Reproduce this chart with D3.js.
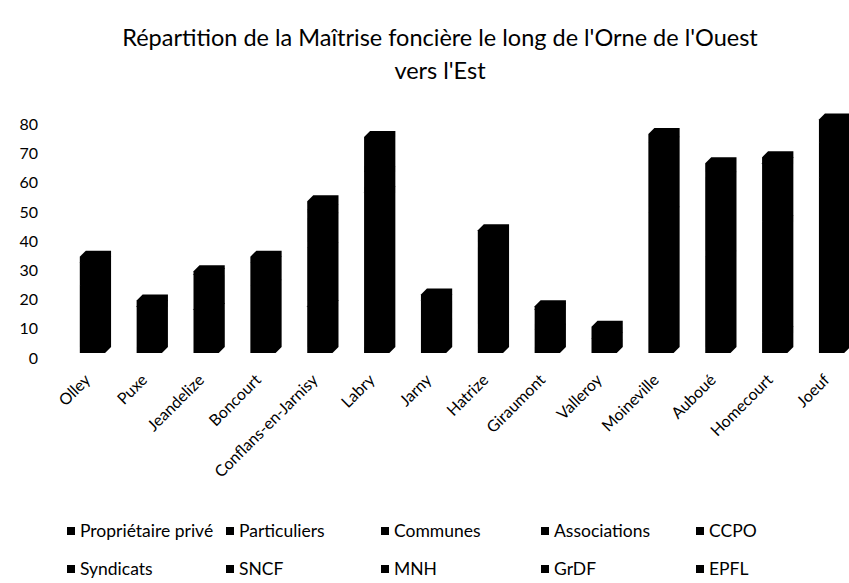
<!DOCTYPE html>
<html>
<head>
<meta charset="utf-8">
<script src="https://cdn.jsdelivr.net/npm/d3@7"></script>
<style>
  body { margin: 0; background: #fff; }
  svg text { font-family: Lato, "Open Sans", sans-serif; fill: #000; }
</style>
</head>
<body>
<svg id="vis" width="849" height="583"></svg>
<script>
// communes along the Orne, west to east
const categories = ['Olley', 'Puxe', 'Jeandelize', 'Boncourt', 'Conflans-en-Jarnisy', 'Labry', 'Jarny',
  'Hatrize', 'Giraumont', 'Valleroy', 'Moineville', 'Auboué', 'Homecourt', 'Joeuf'];

// one array per owner type (same order as categories)
const proprietairePrive = [23, 16, 15, 23, 16, 55, 12, 8, 8, 5, 48, 33, 7, 60];
const particuliers      = [0, 0, 0, 0, 20, 0, 0, 28, 0, 0, 0, 0, 38, 0];
const communes          = [8, 2, 12, 8, 10, 7, 6, 6, 7, 4, 24, 27, 20, 12];
const associations      = [2, 0, 0, 2, 0, 0, 0, 0, 0, 0, 0, 0, 0, 0];
const ccpo              = [0, 0, 0, 0, 3, 0, 2, 0, 0, 0, 0, 0, 0, 0];
const syndicats         = [0, 0, 1, 0, 0, 0, 0, 0, 0, 0, 0, 0, 0, 0];
const sncf              = [0, 0, 0, 0, 3, 12, 0, 0, 1, 0, 0, 0, 0, 0];
const mnh               = [0, 0, 0, 0, 0, 0, 0, 0, 0, 0, 3, 0, 0, 0];
const grdf              = [0, 0, 0, 0, 0, 0, 0, 0, 0, 0, 0, 0, 2, 0];
const epfl              = [0, 0, 0, 0, 0, 0, 0, 0, 0, 0, 0, 5, 0, 8];

const seriesNames = ['Propriétaire privé', 'Particuliers', 'Communes', 'Associations', 'CCPO',
  'Syndicats', 'SNCF', 'MNH', 'GrDF', 'EPFL'];
const seriesValues = [proprietairePrive, particuliers, communes, associations, ccpo,
  syndicats, sncf, mnh, grdf, epfl];
const yTicks = [0, 10, 20, 30, 40, 50, 60, 70, 80];

// table for d3.stack
const table = categories.map((c, i) => {
  const row = { commune: c };
  seriesNames.forEach((s, k) => row[s] = seriesValues[k][i]);
  return row;
});
const stacked = d3.stack().keys(seriesNames)(table);

const vis = d3.select('#vis');
const depth = 6;

const x = d3.scaleBand()
  .domain(categories)
  .range([67, 863])
  .paddingInner(0.45)
  .paddingOuter(0.225);

const y = d3.scaleLinear()
  .domain([0, 80])
  .range([353, 119.4]);

// title
vis.append('text')
  .attr('x', 440).attr('y', 46)
  .attr('text-anchor', 'middle')
  .style('font-size', '23.5px')
  .text("Répartition de la Maîtrise foncière le long de l'Orne de l'Ouest");
vis.append('text')
  .attr('x', 440).attr('y', 79)
  .attr('text-anchor', 'middle')
  .style('font-size', '23.5px')
  .text("vers l'Est");

// y labels (no axis line in the original)
vis.append('g').selectAll('text')
  .data(yTicks)
  .enter()
    .append('text')
    .attr('x', 38)
    .attr('y', d => y(d) + 5)
    .attr('dy', '0.35em')
    .attr('text-anchor', 'end')
    .style('font-size', '16px')
    .text(d => d);

// 3d-ish stacked columns, every series printed black
const bar = (i, v0, v1) => {
  const x0 = x(categories[i]), x1 = x0 + x.bandwidth();
  const yb = y(v0), yt = y(v1);
  return [[x0, yb], [x0, yt], [x0 + depth, yt - depth], [x1, yt - depth],
    [x1, yb - depth], [x1 - depth, yb]].join(' ');
};

vis.append('g').selectAll('g')
  .data(stacked)
  .enter()
    .append('g')
    .attr('fill', '#000')
    .selectAll('polygon')
    .data(d => d.map((p, i) => ({ i, v0: p[0], v1: p[1] })).filter(p => p.v1 > p.v0))
    .enter()
      .append('polygon')
      .attr('points', d => bar(d.i, d.v0, d.v1));

// x labels, rotated
vis.append('g').selectAll('text')
  .data(categories)
  .enter()
    .append('text')
    .attr('transform', d => `translate(${x(d) + x.bandwidth() / 2 - 4},${381}) rotate(-45)`)
    .attr('text-anchor', 'end')
    .style('font-size', '16px')
    .text(d => d);

// legend, 2 rows x 5 columns
const legendX = [71, 230, 385, 545, 700];
const legendY = [531, 569];
const legend = vis.append('g').selectAll('g')
  .data(seriesNames)
  .enter()
    .append('g')
    .attr('transform', (d, i) => `translate(${legendX[i % 5]},${legendY[Math.floor(i / 5)]})`);
legend.append('rect')
  .attr('x', -4).attr('y', -4)
  .attr('width', 8).attr('height', 8)
  .attr('fill', '#000');
legend.append('text')
  .attr('x', 9)
  .attr('dy', '0.35em')
  .style('font-size', '17.5px')
  .text(d => d);
</script>
</body>
</html>
